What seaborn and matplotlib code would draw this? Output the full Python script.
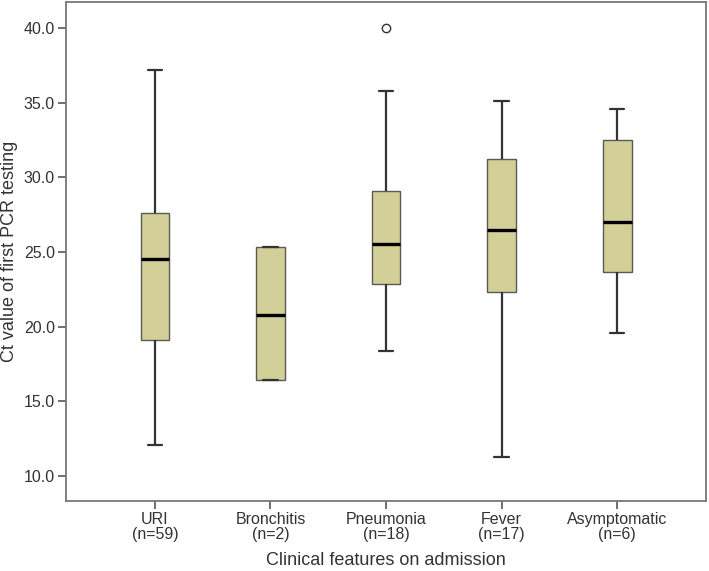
import matplotlib
matplotlib.use("Agg")
import matplotlib.pyplot as plt
import numpy as np
import pandas as pd
import seaborn as sns
from matplotlib.ticker import FormatStrFormatter

# Five-number summaries (Ct value of first PCR test)
groups = ["URI", "Bronchitis", "Pneumonia", "Fever", "Asymptomatic"]
group_n = [59, 2, 18, 17, 6]
whisker_lo = [12.1, 16.4, 18.4, 11.3, 19.6]
q1 = [19.1, 16.4, 22.85, 22.3, 23.65]
median = [24.5, 20.8, 25.5, 26.5, 27.0]
q3 = [27.6, 25.3, 29.1, 31.2, 32.5]
whisker_hi = [37.2, 25.3, 35.8, 35.1, 34.6]
outliers = [[], [], [40.0], [], []]

yticks = [10, 15, 20, 25, 30, 35, 40]

# Build 9 points per group so that the 25/50/75 percentiles land exactly on
# the read quartiles (indices 2, 4, 6) and the ends give the whiskers
rows = []
for i, g in enumerate(groups):
    pts = [whisker_lo[i], q1[i], q1[i], median[i], median[i], q3[i], q3[i], whisker_hi[i]]
    pts += outliers[i] if outliers[i] else [whisker_hi[i]]
    rows += [(g, v) for v in pts]
df = pd.DataFrame(rows, columns=["group", "ct"])

sns.set_theme(style="ticks")
plt.rcParams["font.family"] = ["Liberation Sans", "DejaVu Sans"]

fig = plt.figure(figsize=(7.09, 5.71), dpi=100)
ax = fig.add_axes([0.0931, 0.1226, 0.9027, 0.8739])

line_dark = "#333333"
sns.boxplot(
    data=df, x="group", y="ct", order=groups, ax=ax,
    color="#D3CF98", saturation=1, width=0.25, whis=1.5,
    boxprops=dict(edgecolor="#5a5a50", linewidth=1.0),
    whiskerprops=dict(color=line_dark, linewidth=1.6),
    capprops=dict(color=line_dark, linewidth=1.6),
    medianprops=dict(color="black", linewidth=2.4),
    flierprops=dict(marker="o", markersize=6, markerfacecolor="white",
                    markeredgecolor=line_dark, markeredgewidth=1.0),
)

ax.set_xlim(-0.77, 4.77)
ax.set_ylim(8.33, 41.73)
ax.set_yticks(yticks)
ax.yaxis.set_major_formatter(FormatStrFormatter("%.1f"))
ax.set_xticks(range(len(groups)))
ax.set_xticklabels([f"{g}\n(n={n})" for g, n in zip(groups, group_n)],
                   linespacing=1.0)

ax.tick_params(axis="both", direction="out", length=6, width=1.2,
               color="#555555", labelsize=11.5, labelcolor="#333333", pad=2)

ax.set_xlabel("Clinical features on admission", fontsize=13, color="#333333", labelpad=7)
ax.set_ylabel("Ct value of first PCR testing", fontsize=13, color="#333333", labelpad=4)

for side in ax.spines:
    ax.spines[side].set_visible(True)
    ax.spines[side].set_color("#777777")
    ax.spines[side].set_linewidth(1.3)

fig.savefig("out.png", dpi=100)
